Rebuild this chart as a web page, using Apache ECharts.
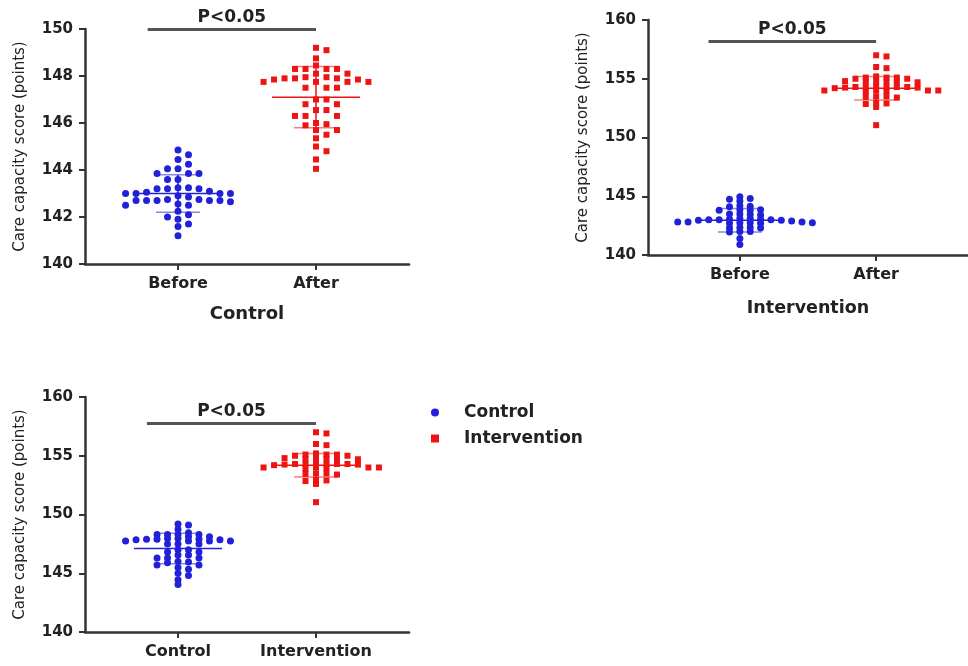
<!DOCTYPE html>
<html>
<head>
<meta charset="utf-8">
<script src="https://cdn.jsdelivr.net/npm/echarts@6/dist/echarts.min.js"></script>
<style>
  html, body { margin: 0; background: #fff; }
  #main { width: 968px; height: 666px; }
</style>
</head>
<body>
<div id="main"></div>
<script>
// care capacity scores (points)
const controlBefore = [144.85, 144.65, 144.45, 144.25, 144.05, 144.05, 143.85, 143.85, 143.85, 143.6, 143.6,
  143.25, 143.2, 143.2, 143.25, 143.2, 143.1, 143.0, 143.0, 143.0, 143.0, 143.05, 142.9, 142.85, 142.75,
  142.7, 142.7, 142.7, 142.75, 142.7, 142.65, 142.7, 142.5, 142.5, 142.55, 142.25, 142.1, 142.0, 141.9,
  141.7, 141.6, 141.2];
const controlAfter = [149.2, 149.1, 148.75, 148.45, 148.3, 148.3, 148.3, 148.3, 148.1, 148.1, 147.95, 147.9,
  147.95, 147.9, 147.85, 147.85, 147.9, 147.75, 147.75, 147.75, 147.75, 147.5, 147.5, 147.5, 147.0, 147.0,
  146.8, 146.8, 146.55, 146.55, 146.3, 146.3, 146.3, 146.0, 145.95, 145.9, 145.7, 145.7, 145.5, 145.35,
  145.0, 144.8, 144.45, 144.05];
const interventionBefore = [144.95, 144.8, 144.75, 144.6, 144.2, 144.15, 144.1, 143.85, 143.8, 143.85, 143.8,
  143.5, 143.45, 143.5, 143.4, 143.1, 143.05, 143.0, 143.0, 143.1, 142.95, 142.9, 143.0, 142.95, 143.05,
  142.8, 142.75, 142.8, 142.7, 142.75, 142.8, 142.7, 142.75, 142.35, 142.3, 142.35, 142.3, 142.0, 141.95,
  142.0, 141.4, 140.9];
const interventionAfter = [157.0, 156.9, 156.0, 155.9, 155.2, 155.1, 155.1, 155.0, 155.1, 155.0, 154.8, 154.75,
  154.7, 154.8, 154.75, 154.7, 154.3, 154.3, 154.35, 154.25, 154.3, 154.3, 154.25, 154.3, 154.2, 154.0,
  153.95, 154.0, 154.0, 153.9, 154.0, 153.5, 153.4, 153.5, 153.45, 152.9, 152.85, 152.95, 152.6, 151.05];

// mean and SD lines: controlBefore, controlAfter, interventionBefore, interventionAfter
const groupMeans = [143.0, 147.1, 142.95, 154.2];
const groupSDs = [0.8, 1.3, 1.0, 1.0];

const panel1Labels = ['Before', 'After'];
const panel2Labels = ['Before', 'After'];
const panel3Labels = ['Control', 'Intervention'];
const yRange1 = [140, 150, 2];
const yRange23 = [140, 160, 5];

// significance bars: start (category units), end, height
const sigFrom = [0.78, 0.77, 0.775];
const sigTo = [2, 2, 2];
const sigY = [150, 158.2, 157.8];
const sigText = 'P<0.05';

const BLUE = '#2121d9';
const RED = '#ee1414';
const AXIS = '#333';
const FONT = '"DejaVu Sans", Verdana, sans-serif';

// GraphPad-like column scatter: spread points that sit too close in the same column
function swarm(values, center, step, gap) {
  const cols = {};
  return values.slice().sort((a, b) => b - a).map(v => {
    for (let k = 0; ; k++) {
      const c = k === 0 ? 0 : (k % 2 ? (k + 1) / 2 : -k / 2);
      const list = cols[c] || (cols[c] = []);
      if (list.every(u => Math.abs(u - v) >= gap)) {
        list.push(v);
        return [center + c * step, v];
      }
    }
  });
}

function renderErrorBar(params, api) {
  const x = api.value(0), m = api.value(1), s = api.value(2);
  const c = api.coord([x, m]);
  const hi = api.coord([x, m + s]);
  const lo = api.coord([x, m - s]);
  const color = api.value(3) ? RED : BLUE;
  const st = { stroke: color, lineWidth: 1.5 };
  const cap = { stroke: color, lineWidth: 1.5, opacity: 0.55 };
  return {
    type: 'group',
    children: [
      { type: 'line', shape: { x1: c[0] - 44, y1: c[1], x2: c[0] + 44, y2: c[1] }, style: st },
      { type: 'line', shape: { x1: c[0], y1: hi[1], x2: c[0], y2: lo[1] }, style: st },
      { type: 'line', shape: { x1: c[0] - 22, y1: hi[1], x2: c[0] + 22, y2: hi[1] }, style: cap },
      { type: 'line', shape: { x1: c[0] - 22, y1: lo[1], x2: c[0] + 22, y2: lo[1] }, style: cap }
    ]
  };
}

const panels = [
  { grid: { left: 85, top: 29, width: 324, height: 235 }, y: yRange1, labels: panel1Labels, xName: 'Control',
    nameSize: 18, nameGap: 41, gapPx: 6,
    a: controlBefore, b: controlAfter, ia: 0, ib: 1, names: ['Control before', 'Control after'] },
  { grid: { left: 648, top: 20, width: 327, height: 235 }, y: yRange23, labels: panel2Labels, xName: 'Intervention',
    nameSize: 17.5, nameGap: 44, gapPx: 3.6,
    a: interventionBefore, b: interventionAfter, ia: 2, ib: 3, names: ['Intervention before', 'Intervention after'] },
  { grid: { left: 85, top: 397, width: 324, height: 235 }, y: yRange23, labels: panel3Labels, xName: '',
    nameSize: 17, nameGap: 41, gapPx: 3.6,
    a: controlAfter, b: interventionAfter, ia: 1, ib: 3, names: ['Control', 'Intervention'] }
];

const grids = [], xAxes = [], yAxes = [], series = [];
panels.forEach((p, i) => {
  grids.push(p.grid);
  xAxes.push({
    type: 'value', gridIndex: i, min: 0.326, max: 2.674,
    splitLine: { show: false },
    axisLine: { onZero: false, lineStyle: { color: AXIS, width: 2.5 } },
    axisTick: { customValues: [1, 2], length: 6, lineStyle: { color: AXIS, width: 2 } },
    axisLabel: { customValues: [1, 2], formatter: v => p.labels[Math.round(v) - 1], margin: 12,
      fontSize: 16, fontWeight: 'bold', color: '#222', fontFamily: FONT },
    name: p.xName, nameLocation: 'middle', nameGap: p.nameGap,
    nameTextStyle: { fontSize: p.nameSize, fontWeight: 'bold', color: '#222', fontFamily: FONT }
  });
  yAxes.push({
    type: 'value', gridIndex: i, min: p.y[0], max: p.y[1], interval: p.y[2],
    splitLine: { show: false },
    axisLine: { show: true, onZero: false, lineStyle: { color: AXIS, width: 2.5 } },
    axisTick: { show: true, length: 6, lineStyle: { color: AXIS, width: 2 } },
    axisLabel: { margin: 12, fontSize: 15, fontWeight: 'bold', color: '#222', fontFamily: FONT },
    name: 'Care capacity score (points)', nameLocation: 'middle', nameGap: 57,
    nameTextStyle: { fontSize: 15, color: '#222', fontFamily: FONT }
  });
  // minimum vertical spacing inside one column, in axis units
  const gap = p.gapPx * (p.y[1] - p.y[0]) / p.grid.height;
  series.push({
    name: p.names[0], type: 'scatter', xAxisIndex: i, yAxisIndex: i,
    symbol: 'circle', symbolSize: 7, itemStyle: { color: BLUE, opacity: 1 },
    data: swarm(p.a, 1, 0.076, gap), z: 2
  });
  series.push({
    name: p.names[1], type: 'scatter', xAxisIndex: i, yAxisIndex: i,
    symbol: 'rect', symbolSize: 6, itemStyle: { color: RED, opacity: 1 },
    data: swarm(p.b, 2, 0.076, gap), z: 2
  });
  series.push({
    type: 'custom', xAxisIndex: i, yAxisIndex: i, z: 3, silent: true,
    renderItem: renderErrorBar,
    data: [[1, groupMeans[p.ia], groupSDs[p.ia], 0], [2, groupMeans[p.ib], groupSDs[p.ib], 1]],
    markLine: {
      symbol: 'none', silent: true, animation: false,
      lineStyle: { color: '#555', width: 3, type: 'solid' },
      label: { show: true, position: 'middle', formatter: sigText, distance: 3,
        fontSize: 17, fontWeight: 'bold', color: '#222', fontFamily: FONT },
      data: [[{ coord: [sigFrom[i], sigY[i]] }, { coord: [sigTo[i], sigY[i]] }]]
    }
  });
});

const chart = echarts.init(document.getElementById('main'));
chart.setOption({
  animation: false,
  backgroundColor: '#fff',
  textStyle: { fontFamily: FONT },
  legend: {
    orient: 'vertical', left: 426, top: 399, itemWidth: 8, itemHeight: 8, itemGap: 9,
    data: ['Control', 'Intervention'],
    textStyle: { fontSize: 17, fontWeight: 'bold', color: '#222', fontFamily: FONT, padding: [0, 0, 0, 20] }
  },
  grid: grids,
  xAxis: xAxes,
  yAxis: yAxes,
  series: series
});
</script>
</body>
</html>
